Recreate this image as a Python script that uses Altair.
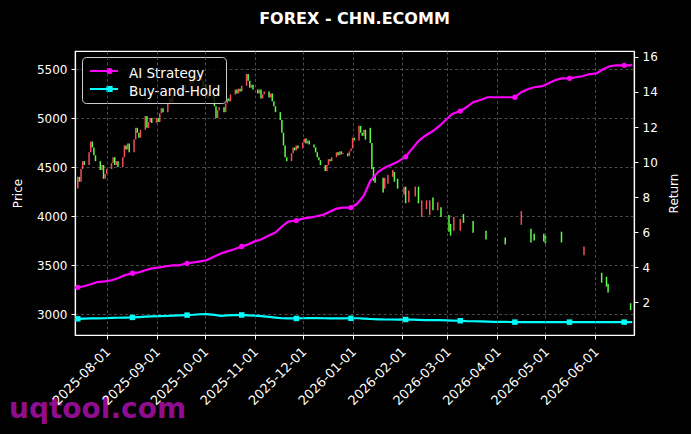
import altair as alt
import pandas as pd

# ---------------- candles: dense business-day segment (from 2025-07-14) ----------------
dense_start = "2025-07-14"
dense_open = [
    4280, 4400, 4350, 4480, 4560,  4520, 4650, 4760, 4700, 4620,
    4560, 4470, 4520, 4380, 4430,  4480, 4540, 4600, 4520, 4560,
    4500, 4600, 4720, 4680, 4740,  4650, 4780, 4900, 4850, 4800,
    4880, 5020, 4900, 4960, 5000,  4950, 5000, 4960, 5050, 5100,
    5060, 5150, 5200, 5160, 5230,  5260, 5220, 5290, 5320, 5280,
    5340, 5390, 5350, 5420, 5380,  5440, 5380, 5320, 5350, 5260,
    5200, 5230, 5120, 5000, 5080,  5110, 5060, 5150, 5200, 5170,
    5240, 5290, 5250, 5300, 5270,  5330, 5450, 5380, 5310, 5340,
    5290, 5250, 5290, 5200, 5240,  5270, 5210, 5250, 5170, 5120,
    5060, 4980, 4850, 4720, 4600,  4560, 4640, 4700, 4670, 4720,
    4690, 4750, 4790, 4740, 4770,  4730, 4700, 4650, 4600, 4570,
    4520, 4460, 4520, 4580, 4560,  4600, 4650, 4620, 4660, 4630,
    4640, 4610, 4660, 4690, 4800,  4770, 4920, 4850, 4820, 4880,
]
dense_close = [
    4400, 4350, 4480, 4560, 4520,  4650, 4760, 4700, 4620, 4560,
    4470, 4520, 4380, 4430, 4480,  4540, 4600, 4520, 4560, 4500,
    4600, 4720, 4680, 4740, 4650,  4780, 4900, 4850, 4800, 4880,
    5020, 4900, 4960, 5000, 4950,  5000, 4960, 5050, 5100, 5060,
    5150, 5200, 5160, 5230, 5260,  5220, 5290, 5320, 5280, 5340,
    5390, 5350, 5420, 5380, 5440,  5380, 5320, 5350, 5260, 5200,
    5230, 5120, 5000, 5080, 5110,  5060, 5150, 5200, 5170, 5240,
    5290, 5250, 5300, 5270, 5330,  5450, 5380, 5310, 5340, 5290,
    5250, 5290, 5200, 5240, 5270,  5210, 5250, 5170, 5120, 5060,
    4980, 4850, 4720, 4600, 4560,  4640, 4700, 4670, 4720, 4690,
    4750, 4790, 4740, 4770, 4730,  4700, 4650, 4600, 4570, 4520,
    4460, 4520, 4580, 4560, 4600,  4650, 4620, 4660, 4630, 4640,
    4610, 4660, 4690, 4800, 4770,  4920, 4850, 4820, 4880, 4780,
]

# ---------------- candles: later, gappy segment ----------------
sparse_dates = [
    "2026-01-12", "2026-01-13", "2026-01-14", "2026-01-15", "2026-01-20",
    "2026-01-21", "2026-01-23", "2026-01-26", "2026-01-27", "2026-01-29",
    "2026-02-02", "2026-02-03", "2026-02-05", "2026-02-09", "2026-02-11",
    "2026-02-13", "2026-02-16", "2026-02-18", "2026-02-20", "2026-02-23",
    "2026-02-25", "2026-03-02", "2026-03-03", "2026-03-05", "2026-03-09",
    "2026-03-11", "2026-03-17", "2026-03-25", "2026-04-06", "2026-04-16",
    "2026-04-22", "2026-04-24", "2026-04-30", "2026-05-01", "2026-05-11",
    "2026-05-25", "2026-06-05", "2026-06-08", "2026-06-09", "2026-06-23",
]
sparse_open = [
    4900, 4745, 4500, 4420, 4390,  4280, 4330, 4400, 4450, 4380,
    4220, 4300, 4140, 4200, 4300,  3990, 4070, 4010, 4190, 4060,
    4090, 4010, 3920, 3850, 3850,  4020, 3950, 3850, 3780, 3910,
    3870, 3820, 3820, 3800, 3840,  3600, 3420, 3380, 3310, 3110,
]
sparse_close = [
    4745, 4480, 4360, 4340, 4240,  4390, 4420, 4470, 4350, 4280,
    4300, 4130, 4260, 4300, 4130,  4160, 4160, 4160, 4060, 4140,
    3990, 3840, 3800, 3990, 3970,  3930, 3830, 3760, 3710, 4050,
    3730, 3750, 3740, 3720, 3730,  3690, 3320, 3280, 3220, 3040,
]

# ---------------- cumulative returns (day offsets from 2025-07-14) ----------------
ret_start = "2025-07-14"
ret_offset = [
    0, 4, 8, 12, 17, 21, 25, 29,
    34, 38, 42, 46, 51, 55, 59, 63,
    68, 72, 76, 80, 85, 89, 93, 97,
    102, 106, 110, 114, 119, 123, 127, 131,
    136, 140, 144, 148, 153, 157, 161, 165,
    170, 174, 178, 182, 187, 191, 195, 199,
    204, 208, 212, 216, 221, 225, 229, 233,
    238, 242, 246, 250, 255, 259, 263, 267,
    272, 276, 280, 284, 289, 293, 297, 301,
    306, 310, 314, 318, 323, 327, 331, 335,
    340, 344, 345,
]
ai_return = [
    2.85, 2.91, 3.02, 3.14, 3.19, 3.25, 3.36, 3.53,
    3.65, 3.70, 3.82, 3.93, 3.99, 4.05, 4.10, 4.10,
    4.22, 4.27, 4.33, 4.39, 4.61, 4.78, 4.90, 5.01,
    5.18, 5.30, 5.47, 5.58, 5.81, 5.98, 6.32, 6.60,
    6.66, 6.77, 6.83, 6.89, 7.00, 7.17, 7.34, 7.40,
    7.40, 7.63, 8.08, 8.93, 9.44, 9.67, 9.84, 10.01,
    10.30, 10.75, 11.20, 11.49, 11.77, 12.06, 12.40, 12.74,
    12.91, 13.14, 13.42, 13.53, 13.70, 13.70, 13.70, 13.70,
    13.70, 13.99, 14.16, 14.27, 14.33, 14.50, 14.67, 14.78,
    14.78, 14.84, 14.90, 15.01, 15.07, 15.30, 15.47, 15.52,
    15.52, 15.52, 15.55,
]
bh_return = [
    1.05, 1.06, 1.07, 1.07, 1.08, 1.10, 1.11, 1.12,
    1.13, 1.15, 1.17, 1.19, 1.20, 1.21, 1.23, 1.24,
    1.26, 1.28, 1.31, 1.32, 1.27, 1.22, 1.25, 1.26,
    1.27, 1.25, 1.23, 1.20, 1.16, 1.12, 1.08, 1.07,
    1.07, 1.08, 1.09, 1.09, 1.08, 1.07, 1.07, 1.07,
    1.08, 1.08, 1.06, 1.04, 1.02, 1.01, 1.01, 1.00,
    1.01, 1.00, 0.99, 0.98, 0.98, 0.97, 0.96, 0.95,
    0.94, 0.92, 0.91, 0.90, 0.89, 0.88, 0.88, 0.87,
    0.86, 0.86, 0.86, 0.86, 0.86, 0.86, 0.86, 0.86,
    0.86, 0.86, 0.86, 0.86, 0.86, 0.86, 0.86, 0.86,
    0.86, 0.86, 0.86,
]

series_names = ["AI Strategy", "Buy-and-Hold"]
series_colors = ["#ff00ff", "#00ffff"]
month_ticks = [(2025, 8), (2025, 9), (2025, 10), (2025, 11), (2025, 12), (2026, 1),
               (2026, 2), (2026, 3), (2026, 4), (2026, 5), (2026, 6)]
price_ticks = [3000, 3500, 4000, 4500, 5000, 5500]
return_ticks = [2, 4, 6, 8, 10, 12, 14, 16]

# ---------------- tables ----------------
dense_dates = pd.bdate_range(dense_start, periods=len(dense_open)).strftime("%Y-%m-%d").tolist()
candles = pd.DataFrame({
    "date": dense_dates + sparse_dates,
    "open": dense_open + sparse_open,
    "close": dense_close + sparse_close,
})
ret_dates = (pd.Timestamp(ret_start) + pd.to_timedelta(ret_offset, unit="D")).strftime("%Y-%m-%d").tolist()
returns = pd.DataFrame({"date": ret_dates, "offset": ret_offset, "ai": ai_return, "bh": bh_return})

FONT = "DejaVu Sans"
UP = "#f24f5a"
DOWN = "#5dfc4a"

x_enc = alt.X(
    "date:T",
    scale=alt.Scale(
        type="utc",
        domain=[alt.DateTime(year=2025, month=7, date=12, hours=6, utc=True),
                alt.DateTime(year=2026, month=6, date=25, hours=3, utc=True)],
    ),
    axis=alt.Axis(
        values=[alt.DateTime(year=y, month=m, date=1, utc=True) for y, m in month_ticks],
        labelExpr="utcFormat(datum.value, '%Y-%m-%d')",
        labelOverlap=False, labelBound=False, labelFontSize=13,
        labelAngle=-45, labelAlign="right", labelBaseline="top",
        labelPadding=6, labelOffset=-3,
        title=None, grid=True, zindex=1,
    ),
)

price_scale = alt.Scale(domain=[2786, 5684], nice=False, zero=False)
ret_scale = alt.Scale(domain=[0.125, 16.34], nice=False, zero=False)

candle = alt.Chart(candles).mark_rule(strokeWidth=1.5).encode(
    x=x_enc,
    y=alt.Y("close:Q", scale=price_scale,
            axis=alt.Axis(title="Price", values=price_ticks, orient="left", grid=True,
                          format="d", titlePadding=12)),
    y2="open:Q",
    color=alt.condition("datum.close >= datum.open", alt.value(UP), alt.value(DOWN)),
)

ret_axis = alt.Axis(title="Return", values=return_ticks, orient="right", grid=False,
                    format="d", titleAngle=270, titleBaseline="bottom", titlePadding=23)

base = alt.Chart(returns).encode(x=x_enc)
ai_line = base.mark_line(color=series_colors[0], strokeWidth=2.2).encode(
    y=alt.Y("ai:Q", scale=ret_scale, axis=ret_axis))
bh_line = base.mark_line(color=series_colors[1], strokeWidth=2.2).encode(
    y=alt.Y("bh:Q", scale=ret_scale, axis=ret_axis))
ai_pts = base.transform_filter("datum.offset % 34 == 0").mark_point(
    shape="circle", filled=True, size=28, color=series_colors[0], opacity=1).encode(
    y=alt.Y("ai:Q", scale=ret_scale, axis=ret_axis))
bh_pts = base.transform_filter("datum.offset % 34 == 0").mark_point(
    shape="square", filled=True, size=30, color=series_colors[1], opacity=1).encode(
    y=alt.Y("bh:Q", scale=ret_scale, axis=ret_axis))

# legend-only layer (no rows drawn)
sym_ai = "M-0.81,-0.24L1.86,-0.24M0.85,-0.24A0.2,0.2,0,1,0,1.25,-0.24A0.2,0.2,0,1,0,0.85,-0.24Z"
sym_bh = "M-0.81,-0.24L1.86,-0.24M0.85,-0.44L1.25,-0.44L1.25,-0.04L0.85,-0.04Z"
leg_domain = alt.Scale(domain=series_names, range=series_colors)
legend_layer = base.transform_calculate(series="'AI Strategy'").transform_filter("false").mark_point(
    filled=True, opacity=1).encode(
    y=alt.Y("ai:Q", scale=ret_scale, axis=ret_axis),
    stroke=alt.Stroke("series:N", scale=leg_domain, title=None),
    fill=alt.Fill("series:N", scale=leg_domain, title=None),
    shape=alt.Shape("series:N", scale=alt.Scale(domain=series_names, range=[sym_ai, sym_bh]), title=None),
)

watermark = alt.Chart(pd.DataFrame({"t": ["uqtool.com"]})).mark_text(
    font=FONT, fontSize=28, fontWeight="bold", color="#8e0e8e", align="left", baseline="alphabetic"
).encode(text="t:N", x=alt.value(-66), y=alt.value(367))

price_layer = alt.layer(candle)
ret_layer = alt.layer(ai_line, bh_line, ai_pts, bh_pts, legend_layer)

chart = alt.layer(price_layer, ret_layer, watermark).resolve_scale(
    y="independent"
).properties(
    width=559, height=284,
    background="black",
    autosize=alt.AutoSizeParams(type="none"),
    padding={"left": 75, "top": 51, "right": 57, "bottom": 99},
    title=alt.TitleParams("FOREX - CHN.ECOMM", color="white", font=FONT, fontSize=16,
                          fontWeight="bold", anchor="middle", offset=24),
).configure_view(
    stroke="white", strokeWidth=1.2
).configure_axis(
    labelColor="white", titleColor="white", tickColor="white", domainColor="white",
    labelFont=FONT, titleFont=FONT, labelFontSize=12, titleFontSize=12,
    titleFontWeight="normal", tickSize=4, labelPadding=4,
    gridColor="#5a5a5a", gridDash=[3, 2.5], gridWidth=0.8, domainWidth=1.2,
).configure_legend(
    orient="none", legendX=7, legendY=6,
    fillColor="rgba(0,0,0,0.8)", strokeColor="#cccccc", cornerRadius=4, padding=5,
    labelColor="white", labelFont=FONT, labelFontSize=13.5, labelOffset=19,
    symbolSize=441, symbolStrokeWidth=2, rowPadding=0,
)

chart.save("out.html", embed_options={"renderer": "svg", "actions": False})
